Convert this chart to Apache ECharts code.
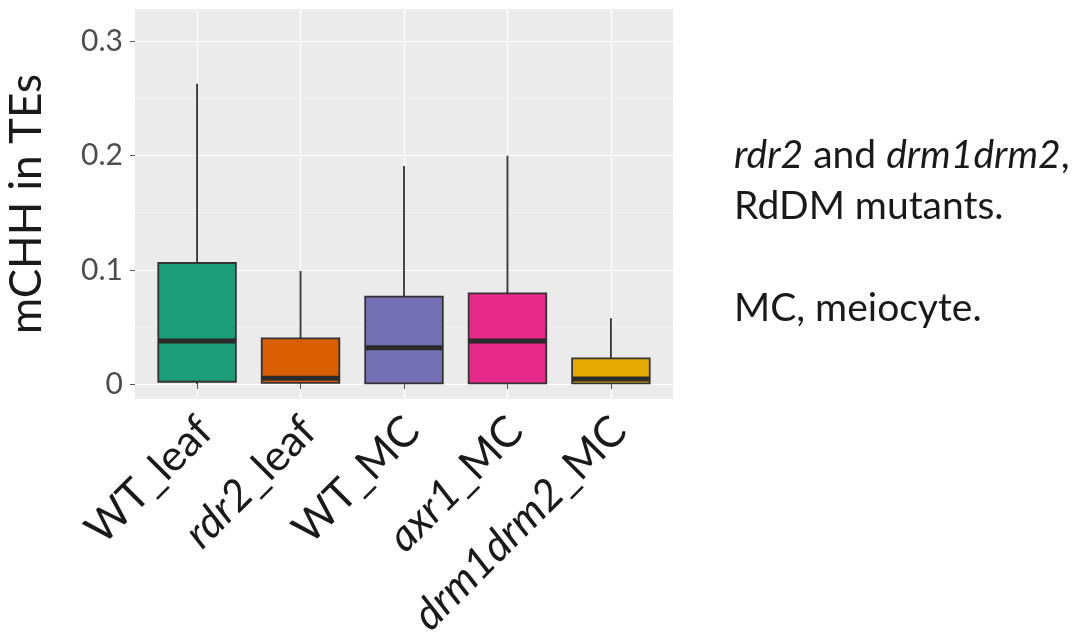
<!DOCTYPE html>
<html>
<head>
<meta charset="utf-8">
<script src="https://cdn.jsdelivr.net/npm/echarts@6/dist/echarts.min.js"></script>
<style>
html,body{margin:0;padding:0;background:#fff;}
#c{width:1092px;height:643px;}
</style>
</head>
<body>
<div id="c"></div>
<script>
// ---- data ----
const categories = ['WT_leaf', 'rdr2_leaf', 'WT_MC', 'axr1_MC', 'drm1drm2_MC'];
const whiskerMin = [0.000, 0.000, 0.000, 0.000, 0.000];
const q1 = [0.002, 0.001, 0.0005, 0.0005, 0.0006];
const median = [0.0376, 0.005, 0.0318, 0.0377, 0.0044];
const q3 = [0.106, 0.040, 0.0765, 0.0794, 0.0225];
const whiskerMax = [0.263, 0.099, 0.191, 0.200, 0.0575];
const colors = ['#1B9E77', '#D95F02', '#7570B3', '#E7298A', '#E6AB02'];
const yTicks = [0, 0.1, 0.2, 0.3];
const yMinorTicks = [0.05, 0.15, 0.25];
const yTickLabels = ['0', '0.1', '0.2', '0.3'];
const xPositions = [1, 2, 3, 4, 5];

const boxData = categories.map((c, i) => [xPositions[i], whiskerMin[i], q1[i], median[i], q3[i], whiskerMax[i]]);

const FONT = 'Lato';
const XFS = 43;
const LABEL_SHIFT = 0.08; // small horizontal nudge of rotated labels (axis units)
const chart = echarts.init(document.getElementById('c'), null, {renderer: 'canvas'});

const option = {
  backgroundColor: '#ffffff',
  animation: false,
  grid: {
    left: 135, top: 9, width: 538, height: 390,
    outerBoundsMode: 'none', containLabel: false,
    show: true, backgroundColor: '#EBEBEB', borderWidth: 0
  },
  xAxis: {
    type: 'value', min: 0.4, max: 5.6,
    axisLine: {show: false},
    axisTick: {show: true, length: 5, lineStyle: {color: '#555555', width: 1}, customValues: xPositions},
    splitLine: {show: true, lineStyle: {color: '#ffffff', width: 1.2}},
    axisLabel: {
      customValues: xPositions.map(p => p + LABEL_SHIFT),
      rotate: 45, margin: 25, hideOverlap: false,
      fontFamily: FONT, fontSize: XFS, color: '#1a1a1a',
      formatter: function (v) {
        const name = categories[Math.round(v) - 1];
        if (!name) return '';
        const k = name.indexOf('_');
        const pre = name.slice(0, k), post = name.slice(k);
        if (pre === 'WT') return '{n|' + name + '}';
        return '{i|' + pre + '}{n|' + post + '}';
      },
      rich: {
        i: {fontStyle: 'italic', fontFamily: FONT, fontSize: XFS, color: '#1a1a1a'},
        n: {fontFamily: FONT, fontSize: XFS, color: '#1a1a1a'}
      }
    }
  },
  yAxis: [{
    type: 'value', min: -0.0131, max: 0.3284,
    name: 'mCHH in TEs', nameLocation: 'middle', nameGap: 86,
    nameTextStyle: {fontFamily: FONT, fontSize: 44, color: '#1a1a1a'},
    axisLine: {show: false},
    axisTick: {show: true, length: 5, lineStyle: {color: '#555555', width: 1}, customValues: yTicks},
    splitLine: {show: true, lineStyle: {color: '#ffffff', width: 1.2}},
    axisLabel: {
      customValues: yTicks, margin: 12,
      fontFamily: FONT, fontSize: 30, color: '#4D4D4D',
      formatter: function (v) {
        const idx = yTicks.findIndex(t => Math.abs(t - v) < 1e-9);
        return idx >= 0 ? yTickLabels[idx] : '';
      }
    }
  }, {
    type: 'value', min: -0.0131, max: 0.3284, position: 'left',
    axisLine: {show: false},
    axisTick: {show: false, customValues: yMinorTicks},
    axisLabel: {show: false, customValues: yMinorTicks},
    splitLine: {show: true, lineStyle: {color: '#F5F5F5', width: 0.8}}
  }],
  series: [{
    type: 'custom',
    xAxisIndex: 0, yAxisIndex: 0,
    encode: {x: 0, y: [1, 2, 3, 4, 5]},
    data: boxData,
    z: 5,
    renderItem: function (params, api) {
      const x = api.value(0);
      const pMin = api.coord([x, api.value(1)]);
      const pQ1 = api.coord([x, api.value(2)]);
      const pMed = api.coord([x, api.value(3)]);
      const pQ3 = api.coord([x, api.value(4)]);
      const pMax = api.coord([x, api.value(5)]);
      const w = api.size([0.75, 0])[0];
      const col = colors[params.dataIndex];
      const stroke = '#333333';
      return {
        type: 'group',
        children: [
          {type: 'line', shape: {x1: pMax[0], y1: pMax[1], x2: pQ3[0], y2: pQ3[1]}, style: {stroke: stroke, lineWidth: 1.8}},
          {type: 'line', shape: {x1: pQ1[0], y1: pQ1[1], x2: pMin[0], y2: pMin[1]}, style: {stroke: stroke, lineWidth: 1.8}},
          {type: 'rect', shape: {x: pQ3[0] - w / 2, y: pQ3[1], width: w, height: pQ1[1] - pQ3[1]},
            style: {fill: col, stroke: stroke, lineWidth: 1.8}},
          {type: 'line', shape: {x1: pMed[0] - w / 2, y1: pMed[1], x2: pMed[0] + w / 2, y2: pMed[1]},
            style: {stroke: '#2b2b2b', lineWidth: 5}}
        ]
      };
    }
  }],
  graphic: [{
    type: 'text', left: 734, top: 130,
    style: {
      text: '{i|rdr2} and {i|drm1drm2},\nRdDM mutants.\n\nMC, meiocyte.',
      font: '39px Lato', fill: '#1a1a1a', lineHeight: 51,
      rich: {i: {fontStyle: 'italic', fontFamily: FONT, fontSize: 39, fill: '#1a1a1a', lineHeight: 51}}
    }
  }]
};
chart.setOption(option);
</script>
</body>
</html>
